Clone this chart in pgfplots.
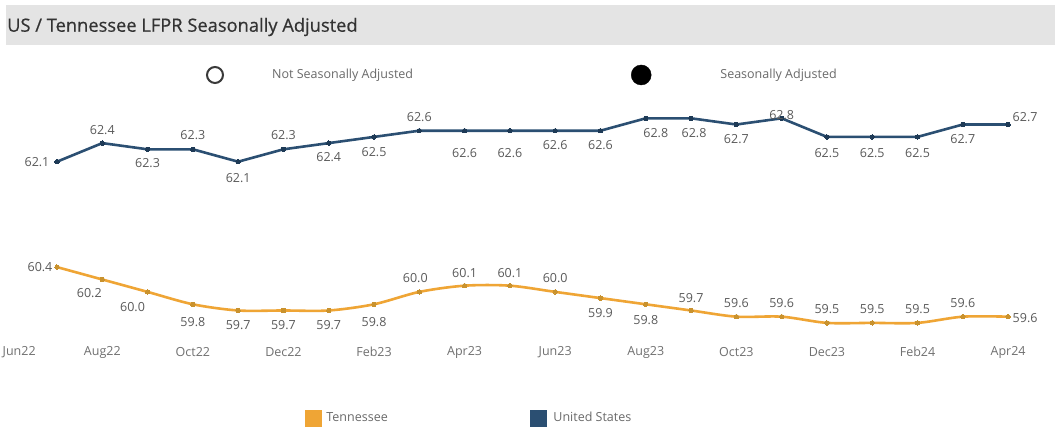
\documentclass[border=0pt]{standalone}
\usepackage{pgfplots}
\pgfplotsset{compat=1.18}
\usepackage{pgfplotstable}
\usepackage{fontspec}
\setmainfont{Open Sans}
\newfontfamily\titlefont{Open Sans}[FakeBold=0.6]
\definecolor{usblue}{HTML}{2B4F72}
\definecolor{usdark}{HTML}{1E3A56}
\definecolor{tnorange}{HTML}{EFA535}
\definecolor{tndark}{HTML}{C9922E}
\definecolor{lbl}{HTML}{5A5A5A}
\definecolor{ticktext}{HTML}{707070}
\definecolor{legtext}{HTML}{6A6A6A}
\definecolor{titlebg}{HTML}{E4E4E4}
\definecolor{titletext}{HTML}{333333}
\definecolor{circ}{HTML}{3A3A3A}

\pgfplotstableread{
x y dx dy
1 62.1 -20 0
2 62.4 0 13
3 62.3 0 -14
4 62.3 0 14
5 62.1 0 -16
6 62.3 0 14
7 62.4 0 -14
8 62.5 0 -15
9 62.6 0 14
10 62.6 0 -22
11 62.6 0 -22
12 62.6 0 -14
13 62.6 0 -14
14 62.8 10 -15
15 62.8 3 -15
16 62.7 0 -15
17 62.8 0 3
18 62.5 0 -16
19 62.5 0 -16
20 62.5 0 -16
21 62.7 0 -15
22 62.7 17 7
}\usdata

\pgfplotstableread{
x y dx dy
1 60.4 -17 0
2 60.2 -13 -14
3 60.0 -15 -15
4 59.8 0 -18
5 59.7 0 -15
6 59.7 0 -15
7 59.7 0 -15
8 59.8 0 -18
9 60.0 -4 14
10 60.1 0 13
11 60.1 0 13
12 60.0 0 14
13 59.9 0 -15
14 59.8 0 -16
15 59.7 0 12
16 59.6 0 14
17 59.6 0 14
18 59.5 0 14
19 59.5 0 14
20 59.5 0 14
21 59.6 0 14
22 59.6 17 -1
}\tndata

\pgfplotsset{
  lbls/.style={point meta=y,
    nodes near coords={\pgfmathprintnumber[fixed,fixed zerofill,precision=1,assume math mode=true]{\pgfplotspointmeta}},
    visualization depends on={\thisrow{dx}\as\ldx},
    visualization depends on={\thisrow{dy}\as\ldy},
    nodes near coords style={anchor=center, xshift=\ldx pt, yshift=\ldy pt,
      font=\fontsize{12.5}{15}\selectfont, text=lbl, inner sep=0pt}},
  legax/.style={hide axis, scale only axis, width=1055pt, height=433pt,
    at={(0pt,0pt)}, anchor=south west, xmin=0, xmax=1055, ymin=0, ymax=433,
    legend cell align=left,
    legend style={draw=none, fill=none, inner sep=0pt, outer sep=0pt, anchor=west,
      font=\fontsize{12.5}{14}\selectfont, text=legtext, nodes={inner sep=0pt}}}
}

\begin{document}
\begin{tikzpicture}
\fill[white] (0pt,0pt) rectangle (1055pt,433pt);
\fill[titlebg] (6pt,388pt) rectangle (1055pt,428pt);
\node[anchor=west, text=titletext, font=\titlefont\fontsize{18.3}{21}\selectfont, inner sep=0pt] at (7pt,406pt) {US / Tennessee LFPR Seasonally Adjusted};

\begin{axis}[at={(5pt,93pt)}, anchor=south west, scale only axis,
  width=1045pt, height=245pt,
  xmin=-0.148, xmax=22.925, ymin=59.224, ymax=63.176,
  axis line style={draw=none}, ytick=\empty,
  xtick={0,2,...,22},
  xticklabels={\rlap{\hspace{-9pt}Jun22},Aug22,Oct22,Dec22,Feb23,Apr23,Jun23,Aug23,Oct23,Dec23,Feb24,Apr24},
  major tick length=0pt, tick style={draw=none},
  xticklabel style={font=\fontsize{12.5}{14}\selectfont, text=ticktext, anchor=center, yshift=-12pt},
  clip=false]
\addplot[color=tnorange, line width=2.6pt, smooth, mark=*, mark size=2.2pt,
  mark options={fill=tndark, draw=tndark, line width=0pt}, lbls] table[x=x,y=y] {\tndata};
\addplot[color=usblue, line width=2.6pt, mark=*, mark size=2.2pt,
  mark options={fill=usdark, draw=usdark, line width=0pt}, lbls] table[x=x,y=y] {\usdata};
\end{axis}

\begin{axis}[legax, legend style={at={(0.19526,0.82679)}}]
\addlegendimage{legend image code/.code={\draw[line width=2pt, draw=circ] (9pt,0pt) circle (8pt); \path (66pt,0pt);}}
\addlegendentry{Not Seasonally Adjusted}
\end{axis}
\begin{axis}[legax, legend style={at={(0.59810,0.82679)}}]
\addlegendimage{legend image code/.code={\fill[black] (10pt,0pt) circle (10pt); \path (89pt,0pt);}}
\addlegendentry{Seasonally Adjusted}
\end{axis}
\begin{axis}[legax, legend style={at={(0.28910,0.034642)}}]
\addlegendimage{legend image code/.code={\fill[tnorange] (0pt,-8pt) rectangle (16pt,8pt); \path (21pt,0pt);}}
\addlegendentry{Tennessee}
\end{axis}
\begin{axis}[legax, legend style={at={(0.50237,0.034642)}}]
\addlegendimage{legend image code/.code={\fill[usblue] (0pt,-8pt) rectangle (16pt,8pt); \path (23pt,0pt);}}
\addlegendentry{United States}
\end{axis}
\end{tikzpicture}
\end{document}
